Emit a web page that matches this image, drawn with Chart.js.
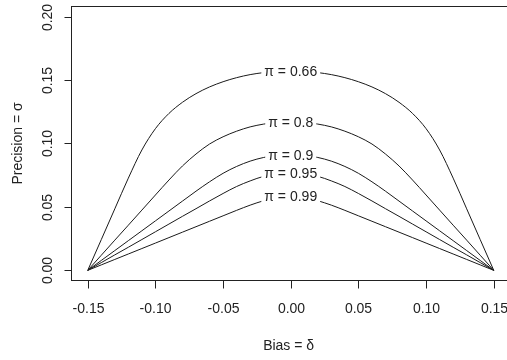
<!DOCTYPE html>
<html>
<head>
<meta charset="utf-8">
<script src="https://cdn.jsdelivr.net/npm/chart.js@4.4.1/dist/chart.umd.min.js"></script>
<style>
  html, body { margin: 0; padding: 0; overflow: hidden; background: #fff; }
  canvas { display: block; }
</style>
</head>
<body>
<canvas id="chart" width="512" height="360"></canvas>
<script>
// bias (delta) grid on the x axis
const bias = [
  -0.15, -0.14, -0.13, -0.12, -0.11, -0.10, -0.09, -0.08, -0.07, -0.06, -0.05,
  -0.04, -0.03, -0.02, -0.01, 0.00, 0.01, 0.02, 0.03, 0.04, 0.05,
  0.06, 0.07, 0.08, 0.09, 0.10, 0.11, 0.12, 0.13, 0.14, 0.15
];

// precision (sigma) for each coverage level pi
const piLabels = ["0.66", "0.8", "0.9", "0.95", "0.99"];
const sigma066 = [
  0, 0.0242, 0.0485, 0.0727, 0.0949, 0.1117, 0.1237, 0.1325, 0.1393, 0.1446, 0.1487,
  0.1519, 0.1543, 0.1559, 0.1569, 0.1572, 0.1569, 0.1559, 0.1543, 0.1519, 0.1487,
  0.1446, 0.1393, 0.1325, 0.1237, 0.1117, 0.0949, 0.0727, 0.0485, 0.0242, 0
];
const sigma080 = [
  0, 0.0119, 0.0238, 0.0356, 0.0475, 0.0594, 0.0712, 0.0823, 0.0917, 0.0996, 0.1053,
  0.1097, 0.1131, 0.1153, 0.1167, 0.1170, 0.1167, 0.1153, 0.1131, 0.1097, 0.1053,
  0.0996, 0.0917, 0.0823, 0.0712, 0.0594, 0.0475, 0.0356, 0.0238, 0.0119, 0
];
const sigma090 = [
  0, 0.0078, 0.0156, 0.0234, 0.0312, 0.0390, 0.0468, 0.0546, 0.0624, 0.0698, 0.0765,
  0.0819, 0.0861, 0.0890, 0.0907, 0.0912, 0.0907, 0.0890, 0.0861, 0.0819, 0.0765,
  0.0698, 0.0624, 0.0546, 0.0468, 0.0390, 0.0312, 0.0234, 0.0156, 0.0078, 0
];
const sigma095 = [
  0, 0.0061, 0.0122, 0.0182, 0.0243, 0.0304, 0.0365, 0.0426, 0.0486, 0.0547, 0.0606,
  0.0661, 0.0705, 0.0741, 0.0758, 0.0765, 0.0758, 0.0741, 0.0705, 0.0661, 0.0606,
  0.0547, 0.0486, 0.0426, 0.0365, 0.0304, 0.0243, 0.0182, 0.0122, 0.0061, 0
];
const sigma099 = [
  0, 0.0043, 0.0086, 0.0129, 0.0172, 0.0215, 0.0258, 0.0301, 0.0344, 0.0387, 0.0430,
  0.0473, 0.0514, 0.0549, 0.0576, 0.0582, 0.0576, 0.0549, 0.0514, 0.0473, 0.0430,
  0.0387, 0.0344, 0.0301, 0.0258, 0.0215, 0.0172, 0.0129, 0.0086, 0.0043, 0
];
const sigmaSeries = [sigma066, sigma080, sigma090, sigma095, sigma099];

// tick labels
const xTicks = [-0.15, -0.10, -0.05, 0.00, 0.05, 0.10, 0.15];
const yTicks = [0.00, 0.05, 0.10, 0.15, 0.20];

const FONT = '14px "Liberation Sans", Arial, sans-serif';
const INK = "#222";

// R-style axes: box, outward ticks, rotated y labels
const rAxes = {
  id: "rAxes",
  afterDraw(chart) {
    const ctx = chart.ctx;
    const area = chart.chartArea;
    const xs = chart.scales.x;
    const ys = chart.scales.y;
    ctx.save();
    ctx.strokeStyle = INK;
    ctx.lineWidth = 1;
    ctx.strokeRect(area.left, area.top, area.right - area.left, area.bottom - area.top);

    ctx.fillStyle = INK;
    ctx.font = FONT;
    ctx.textAlign = "center";
    ctx.textBaseline = "middle";

    xTicks.forEach((v) => {
      const px = Math.round(xs.getPixelForValue(v)) + 0.5;
      ctx.beginPath();
      ctx.moveTo(px, area.bottom);
      ctx.lineTo(px, area.bottom + 8);
      ctx.stroke();
      ctx.fillText(v.toFixed(2), px, 309);
    });

    yTicks.forEach((v) => {
      const py = Math.round(ys.getPixelForValue(v)) + 0.5;
      ctx.beginPath();
      ctx.moveTo(area.left, py);
      ctx.lineTo(area.left - 7, py);
      ctx.stroke();
      ctx.save();
      ctx.translate(48, py);
      ctx.rotate(-Math.PI / 2);
      ctx.fillText(v.toFixed(2), 0, 0);
      ctx.restore();
    });

    ctx.fillText("Bias = δ", (area.left + xs.getPixelForValue(0.15)) / 2 + 6, 346);
    ctx.save();
    ctx.translate(18, (area.top + area.bottom) / 2);
    ctx.rotate(-Math.PI / 2);
    ctx.fillText("Precision = σ", 0, 0);
    ctx.restore();
    ctx.restore();
  }
};

// contour-style labels sitting on each curve at delta = 0
const curveLabels = {
  id: "curveLabels",
  afterDatasetsDraw(chart) {
    const ctx = chart.ctx;
    const mid = bias.indexOf(0);
    ctx.save();
    ctx.font = FONT;
    ctx.textAlign = "center";
    ctx.textBaseline = "middle";
    chart.data.datasets.forEach((ds, i) => {
      const pt = chart.getDatasetMeta(i).data[mid];
      const txt = "π = " + piLabels[i];
      const w = ctx.measureText(txt).width;
      ctx.fillStyle = "#fff";
      ctx.fillRect(pt.x - w / 2 - 3, pt.y - 6, w + 6, 12);
      ctx.fillStyle = INK;
      ctx.fillText(txt, pt.x, pt.y + 1);
    });
    ctx.restore();
  }
};

const datasets = sigmaSeries.map((s, i) => ({
  label: "π = " + piLabels[i],
  data: bias.map((b, j) => ({x: b, y: s[j]})),
  borderColor: "#1a1a1a",
  borderWidth: 1,
  pointRadius: 0,
  fill: false,
  cubicInterpolationMode: "monotone"
}));

new Chart(document.getElementById("chart").getContext("2d"), {
  type: "line",
  data: {datasets: datasets},
  options: {
    responsive: false,
    animation: false,
    layout: {padding: {left: 71.5, top: 6.5, right: 2, bottom: 79.5}},
    plugins: {legend: {display: false}, tooltip: {enabled: false}},
    scales: {
      x: {type: "linear", min: -0.162, max: 0.162, display: false},
      y: {type: "linear", min: -0.008, max: 0.208, display: false}
    }
  },
  plugins: [rAxes, curveLabels]
});
</script>
</body>
</html>
